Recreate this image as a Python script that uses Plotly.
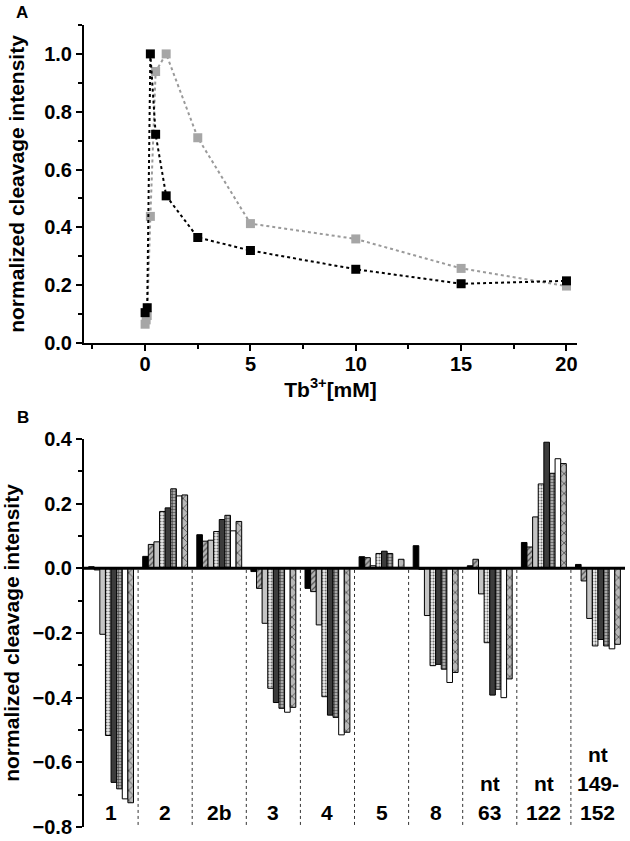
import plotly.graph_objects as go

# ---------------- Panel A data ----------------
tb_black = [0, 0.1, 0.25, 0.5, 1, 2.5, 5, 10, 15, 20]
val_black = [0.105, 0.122, 1.0, 0.722, 0.509, 0.365, 0.32, 0.255, 0.205, 0.215]
tb_gray = [0, 0.05, 0.1, 0.25, 0.5, 1, 2.5, 5, 10, 15, 20]
val_gray = [0.065, 0.08, 0.095, 0.438, 0.939, 1.0, 0.71, 0.413, 0.36, 0.258, 0.197]

# ---------------- Panel B data ----------------
groups = ["1", "2", "2b", "3", "4", "5", "8", "nt 63", "nt 122", "nt 149-152"]
group_label_lines = [["1"], ["2"], ["2b"], ["3"], ["4"], ["5"], ["8"],
                     ["nt", "63"], ["nt", "122"], ["nt", "149-", "152"]]
s1 = [0.005, 0.037, 0.104, -0.010, -0.062, 0.036, 0.070, 0.008, 0.080, 0.012]
s2 = [-0.005, 0.074, 0.084, -0.062, -0.072, 0.033, -0.003, 0.028, 0.066, -0.039]
s3 = [-0.204, 0.082, 0.087, -0.170, -0.175, 0.008, -0.146, -0.079, 0.159, -0.155]
s4 = [-0.517, 0.176, 0.114, -0.371, -0.397, 0.046, -0.301, -0.230, 0.261, -0.240]
s5 = [-0.662, 0.187, 0.151, -0.415, -0.454, 0.053, -0.297, -0.392, 0.390, -0.220]
s6 = [-0.682, 0.246, 0.164, -0.433, -0.461, 0.046, -0.312, -0.374, 0.294, -0.240]
s7 = [-0.713, 0.224, 0.116, -0.445, -0.515, 0.003, -0.353, -0.400, 0.339, -0.249]
s8 = [-0.725, 0.227, 0.145, -0.430, -0.507, 0.028, -0.322, -0.342, 0.324, -0.235]
series = [s1, s2, s3, s4, s5, s6, s7, s8]

styles = [
    dict(color="#000000"),
    dict(color="#b4b4b4", pattern=dict(shape="/", fgcolor="#505050", bgcolor="#b4b4b4", size=4, solidity=0.3, fillmode="replace")),
    dict(color="#c4c4c4"),
    dict(color="#e0e0e0", pattern=dict(shape=".", fgcolor="#707070", bgcolor="#f0f0f0", size=3, solidity=0.4, fillmode="replace")),
    dict(color="#3c3c3c"),
    dict(color="#909090", pattern=dict(shape="+", fgcolor="#303030", bgcolor="#a8a8a8", size=3, solidity=0.3, fillmode="replace")),
    dict(color="#ffffff"),
    dict(color="#a8a8a8", pattern=dict(shape="x", fgcolor="#404040", bgcolor="#b8b8b8", size=7, solidity=0.2, fillmode="replace")),
]

FONT = "Liberation Sans"
W, H = 630, 841

fig = go.Figure()

fig.add_trace(go.Scatter(
    x=tb_gray, y=val_gray, mode="lines+markers",
    line=dict(color="#9a9a9a", dash="dot", width=2),
    marker=dict(symbol="square", size=9, color="#a6a6a6"),
    xaxis="x", yaxis="y", showlegend=False))
fig.add_trace(go.Scatter(
    x=tb_black, y=val_black, mode="lines+markers",
    line=dict(color="#000000", dash="dot", width=2),
    marker=dict(symbol="square", size=9, color="#000000"),
    xaxis="x", yaxis="y", showlegend=False))

for i, s in enumerate(series):
    st = styles[i]
    mk = dict(color=st["color"], line=dict(color="#000000", width=1))
    if "pattern" in st:
        mk["pattern"] = st["pattern"]
    fig.add_trace(go.Bar(x=groups, y=s, marker=mk, xaxis="x2", yaxis="y2",
                         showlegend=False, name="series %d" % (i + 1)))

tickfont = dict(family=FONT, size=20, color="black", weight="bold")
titlefont = dict(family=FONT, size=21, color="black", weight="bold")

def dom_x(a, b):
    return [a / W, b / W]

def dom_y(top, bottom):
    return [1 - bottom / H, 1 - top / H]

axis_common = dict(showgrid=False, zeroline=False, automargin=False,
                   showline=True, linecolor="black", linewidth=2,
                   ticks="outside", ticklen=6, tickwidth=2, tickcolor="black",
                   tickfont=tickfont)

fig.update_layout(
    template="none",
    width=W, height=H, margin=dict(l=0, r=0, t=0, b=0, pad=0),
    paper_bgcolor="white", plot_bgcolor="white",
    barmode="group", bargap=0.17, bargroupgap=0,
    xaxis=dict(domain=dom_x(84, 577), anchor="y", range=[-2.9, 20.5],
               tickvals=[0, 5, 10, 15, 20], ticklabelstandoff=-4,
               minor=dict(dtick=2.5, tick0=0, ticks="outside", ticklen=4, tickwidth=2, tickcolor="black"),
               title=dict(text="Tb<sup>3+</sup>[mM]", font=titlefont, standoff=0),
               **axis_common),
    yaxis=dict(domain=dom_y(25, 343), anchor="x", range=[0, 1.1],
               tickvals=[0, 0.2, 0.4, 0.6, 0.8, 1.0], tickformat=".1f",
               minor=dict(dtick=0.1, tick0=0, ticks="outside", ticklen=4, tickwidth=2, tickcolor="black"),
               title=dict(text="normalized cleavage intensity", font=titlefont, standoff=14),
               **axis_common),
    xaxis2=dict(domain=dom_x(84, 625), anchor="y2", type="category",
                categoryorder="array", categoryarray=groups, range=[-0.5, 9.5], automargin=False,
                showticklabels=False, showgrid=False, zeroline=False, showline=False, ticks=""),
    yaxis2=dict(domain=dom_y(439, 827), anchor="x2", range=[-0.8, 0.4],
                tickvals=[-0.8, -0.6, -0.4, -0.2, 0, 0.2, 0.4], tickformat=".1f",
                minor=dict(dtick=0.1, tick0=0, ticks="outside", ticklen=4, tickwidth=2, tickcolor="black"),
                title=dict(text="normalized cleavage intensity", font=titlefont, standoff=14),
                **axis_common),
)

# zero line of panel B
fig.add_shape(type="line", xref="x2 domain", yref="y2", x0=0, x1=1, y0=0, y1=0,
              line=dict(color="black", width=3), layer="above")
# dotted separators between groups
for k in range(len(groups) - 1):
    fig.add_shape(type="line", xref="x2", yref="y2", x0=k + 0.5, x1=k + 0.5, y0=-0.005, y1=-0.8,
                  line=dict(color="#333333", width=1, dash="dot"), layer="below")

# group labels (category index positions), stacked lines from the bottom
for k, lines in enumerate(group_label_lines):
    n = len(lines)
    for j, txt in enumerate(lines):
        fig.add_annotation(x=k, y=-0.797, xref="x2", yref="y2", text=txt, showarrow=False,
                           yanchor="bottom", xanchor="center", yshift=(n - 1 - j) * 29,
                           font=dict(family=FONT, size=21, color="black", weight="bold"))

# panel letters
fig.add_annotation(x=22 / W, y=1 - 12 / H, xref="paper", yref="paper", text="A", showarrow=False,
                   xanchor="center", yanchor="middle",
                   font=dict(family=FONT, size=17, color="black", weight="bold"))
fig.add_annotation(x=23 / W, y=1 - 417 / H, xref="paper", yref="paper", text="B", showarrow=False,
                   xanchor="center", yanchor="middle",
                   font=dict(family=FONT, size=17, color="black", weight="bold"))

fig.write_html("out.html", config={"displayModeBar": False},
               post_script="document.body.style.margin='0px';document.body.style.padding='0px';")
